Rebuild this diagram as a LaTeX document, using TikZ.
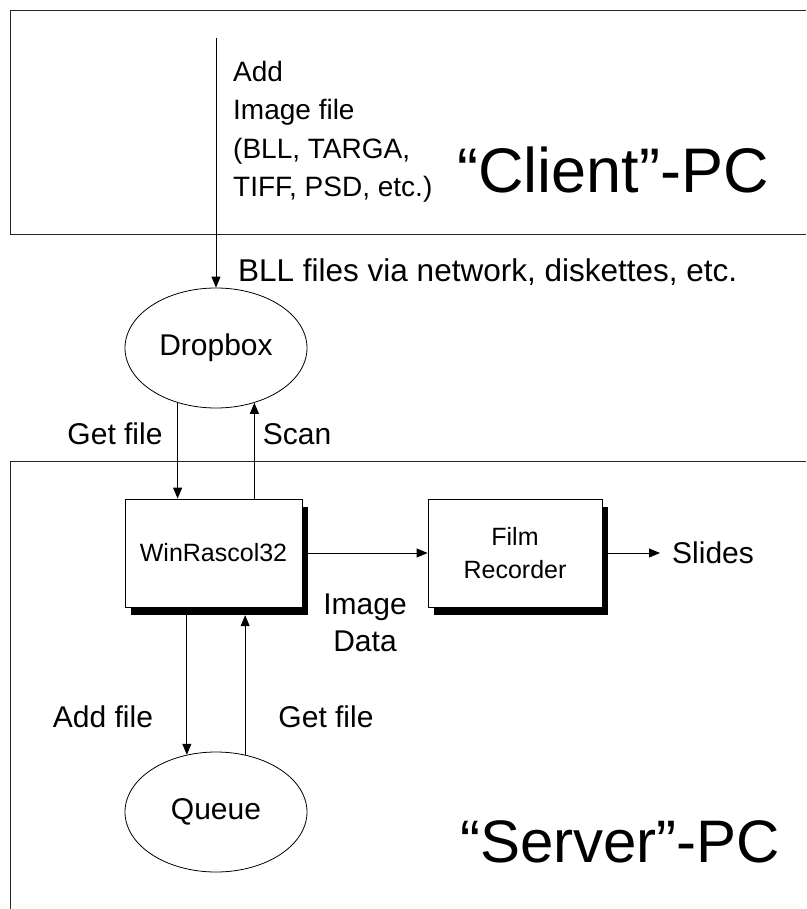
\documentclass[tikz,border=0pt]{standalone}
\usepackage{fontspec}
\setmainfont{Liberation Sans}
\usetikzlibrary{arrows.meta,shapes.geometric,calc}
\begin{document}
\begin{tikzpicture}[x=1pt,y=-1pt,
  frame/.style={line width=0.9pt, draw=black!85},
  conn/.style={line width=0.8pt, -{Triangle[length=11pt,width=9pt]}},
  lbl/.style={font=\fontsize{30}{37}\selectfont, inner sep=0pt},
  big/.style={font=\fontsize{63}{70}\selectfont, inner sep=0pt},
  proc/.style={draw, fill=white, line width=0.8pt, minimum width=177pt, minimum height=108pt, inner sep=0pt, font=\fontsize{25}{33}\selectfont, align=center},
  shade/.style={fill=black, minimum width=177pt, minimum height=108pt, inner sep=0pt},
  store/.style={ellipse, draw, line width=0.8pt, minimum width=182pt, minimum height=120pt, inner sep=0pt, font=\fontsize{30}{36}\selectfont}]
\useasboundingbox (0,0) rectangle (806,909);
% frames
\draw[frame] (806,10) -- (10,10) -- (10,234) -- (806,234);
\draw[frame] (806,461) -- (10,461) -- (10,909);
% nodes
\node[store] (dropbox) at (216,348) {Dropbox};
\node[store] (queue) at (216,812) {Queue};
\node[shade] (winsh) at (219.5,561) {};
\node[proc] (win) at (213.5,553) {WinRascol32};
\node[shade, minimum width=174pt] (filmsh) at (521,561) {};
\node[proc, minimum width=174pt] (film) at (515,553) {Film\\Recorder};
\node[lbl, anchor=west] (slides) at (672,553) {Slides};
% texts
\node[lbl, font=\fontsize{28}{38.5}\selectfont, anchor=west, align=left] (clienttxt) at (233,132) {Add\\Image file\\(BLL, TARGA,\\TIFF, PSD, etc.)};
\node[big, anchor=base west] (client) at (457,193) {“Client”-PC};
\node[lbl, font=\fontsize{31.5}{38}\selectfont, anchor=west] (bll) at (238,272) {BLL files via network, diskettes, etc.};
\node[lbl] (getf1) at (115,434) {Get file};
\node[lbl] (scan) at (297,434) {Scan};
\node[lbl, align=center] (imgdata) at (365,623) {Image\\Data};
\node[lbl] (addf) at (103,717) {Add file};
\node[lbl] (getf2) at (326,717) {Get file};
\node[big, font=\fontsize{60}{70}\selectfont, anchor=base west] (server) at (460,862) {“Server”-PC};
% connectors
\coordinate (src) at (216,38);
\draw[conn] (src) -- (dropbox.north);
\draw[conn] (dropbox.235) -- (dropbox.235 |- win.north);
\draw[conn] (win.north -| dropbox.305) -- (dropbox.305);
\draw[conn] (win.east) -- (film.west);
\draw[conn, shorten >=12pt] (film.east) -- (slides.west);
\draw[conn] (winsh.south -| queue.117) -- (queue.117);
\draw[conn] (queue.63) -- (queue.63 |- winsh.south);
\end{tikzpicture}
\end{document}
